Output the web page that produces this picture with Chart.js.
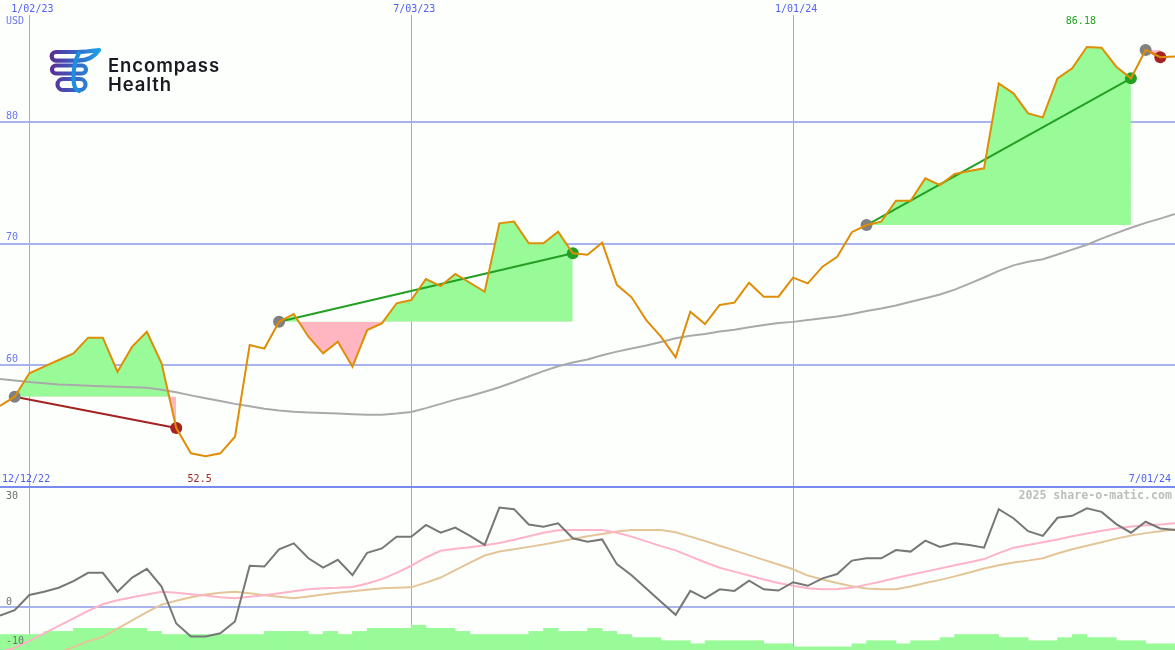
<!DOCTYPE html>
<html>
<head>
<meta charset="utf-8">
<script src="https://cdn.jsdelivr.net/npm/chart.js@4.4.1/dist/chart.umd.min.js"></script>
<style>
  body { margin: 0; background: #fdfffd; }
  #wrap { position: relative; width: 1175px; height: 650px; overflow: hidden; }
  #priceChart { position: absolute; left: 0; top: 0; }
  #oscChart { position: absolute; left: 0; top: 486px; }
  #logo { position: absolute; left: 0; top: 0; width: 240px; height: 100px; }
  .brand { position: absolute; left: 108px; font-family: Inter, 'Open Sans', sans-serif; font-weight: 600;
           font-size: 18.5px; letter-spacing: 0.9px; color: #1b1a22; line-height: 1; }
</style>
</head>
<body>
<div id="wrap">
  <canvas id="priceChart" width="1175" height="487" style="width:1175px;height:487px"></canvas>
  <canvas id="oscChart" width="1175" height="164" style="width:1175px;height:164px"></canvas>
  <div id="logo">
    <svg width="120" height="100" style="position:absolute;left:0;top:0">
      <defs>
        <linearGradient id="lg" gradientUnits="userSpaceOnUse" x1="50" y1="0" x2="100" y2="0">
          <stop offset="0" stop-color="#5b2b92"/>
          <stop offset="0.45" stop-color="#3c5cc0"/>
          <stop offset="1" stop-color="#1aa3e8"/>
        </linearGradient>
      </defs>
      <g fill="none" stroke="url(#lg)" stroke-width="4.2" stroke-linecap="round" stroke-linejoin="round">
        <path d="M99 50 C92 51 85 52 77 52 L56 52 A4.3 4.3 0 0 0 56 60.6 L78 60.6 C88 60.6 95 56 99 50"/>
        <path d="M56 65.5 L82 65.5 A4 4 0 0 1 82 73.5 L56 73.5 A4 4 0 0 1 56 65.5 Z"/>
        <path d="M63 79 L80 79 A5.5 5.5 0 0 1 80 90 L63 90 A5.5 5.5 0 0 1 63 79 Z"/>
        <path d="M79 53 C75 60 73.5 68 73.5 78 C73.5 86 75 90 79 91" stroke="#1e8fe0"/>
      </g>
    </svg>
    <div class="brand" style="top:56px">Encompass</div>
    <div class="brand" style="top:75px">Health</div>
  </div>
</div>
<script>
// Weekly closes, 12/19/22 .. 7/01/24 (index 0..80)
const price = [
  56.63, 57.39, 59.32, 59.86, 60.41, 60.96, 62.25, 62.25, 59.45, 61.51,
  62.74, 60.14, 54.81, 52.73, 52.5, 52.73, 54.10, 61.65, 61.35, 63.56,
  64.20, 62.33, 60.96, 61.92, 59.86, 62.88, 63.43, 65.08, 65.35, 67.08,
  66.50, 67.49, 66.77, 66.03, 71.66, 71.80, 70.02, 70.02, 70.97, 69.19,
  69.08, 70.07, 66.60, 65.57, 63.70, 62.33, 60.63, 64.39, 63.37, 64.94,
  65.13, 66.77, 65.62, 65.62, 67.19, 66.72, 68.09, 68.91, 70.93, 71.52,
  71.80, 73.52, 73.52, 75.36, 74.81, 75.72, 75.97, 76.19, 83.18, 82.36,
  80.71, 80.38, 83.59, 84.42, 86.18, 86.12, 84.55, 83.59, 85.93, 85.33,
  85.38
];
const movingAvg = [
  58.85, 58.72, 58.60, 58.50, 58.40, 58.35, 58.30, 58.26, 58.22, 58.17,
  58.12, 57.97, 57.75, 57.50, 57.27, 57.03, 56.80, 56.60, 56.40, 56.25,
  56.15, 56.10, 56.05, 56.00, 55.95, 55.90, 55.90, 56.00, 56.13, 56.45,
  56.80, 57.15, 57.45, 57.80, 58.17, 58.60, 59.05, 59.50, 59.90, 60.20,
  60.45, 60.80, 61.10, 61.35, 61.60, 61.90, 62.20, 62.40, 62.55, 62.75,
  62.90, 63.10, 63.30, 63.45, 63.55, 63.70, 63.85, 64.00, 64.20, 64.45,
  64.65, 64.90, 65.20, 65.50, 65.80, 66.20, 66.70, 67.20, 67.75, 68.20,
  68.50, 68.70, 69.10, 69.50, 69.90, 70.40, 70.85, 71.30, 71.70, 72.05,
  72.43
];
// trend segments (week index of start and end)
const trendStart = [1, 19, 59, 78];
const trendEnd = [12, 39, 77, 79];

// lower panel
const oscLine = [
  -2.2, -0.8, 3.05, 3.9, 4.9, 6.6, 8.7, 8.7, 3.9, 7.5,
  9.7, 5.2, -4.2, -7.5, -7.5, -6.7, -3.7, 10.5, 10.3, 14.7,
  16.2, 12.4, 10.0, 12.0, 8.1, 13.8, 14.9, 17.9, 17.9, 20.9,
  18.9, 20.2, 18.1, 15.8, 25.3, 24.9, 21.0, 20.4, 21.3, 17.5,
  16.6, 17.2, 10.9, 8.1, 4.7, 1.35, -2.0, 4.1, 2.2, 4.5,
  4.1, 6.7, 4.5, 4.2, 6.3, 5.4, 7.3, 8.4, 11.8, 12.4,
  12.4, 14.5, 14.1, 16.9, 15.3, 16.2, 15.8, 15.1, 24.9, 22.6,
  19.3, 18.1, 22.7, 23.2, 25.1, 24.2, 21.1, 18.9, 21.7, 20.0,
  19.6
];
const signalFast = [
  -11.4, -10.4, -8.6, -6.7, -4.8, -2.9, -1.0, 0.7, 1.7, 2.5,
  3.2, 3.85, 3.6, 3.25, 2.9, 2.5, 2.25, 2.6, 3.0, 3.5,
  4.0, 4.5, 4.8, 4.9, 5.1, 6.0, 7.1, 8.7, 10.5, 12.6,
  14.3, 14.8, 15.2, 15.7, 16.3, 17.1, 18.0, 18.9, 19.5, 19.6,
  19.6, 19.6, 18.9, 17.9, 16.7, 15.5, 14.4, 12.9, 11.4, 10.0,
  9.0, 8.0, 7.0, 6.1, 5.4, 4.8, 4.5, 4.6, 4.9, 5.7,
  6.5, 7.4, 8.2, 9.0, 9.8, 10.6, 11.4, 12.2, 13.7, 15.1,
  15.8, 16.5, 17.2, 18.0, 18.7, 19.4, 20.0, 20.5, 20.8, 21.0,
  21.3
];
const signalSlow = [
  -16.4, -15.2, -14.0, -12.8, -11.6, -10.2, -8.7, -7.6, -5.5, -3.4,
  -1.3, 0.6, 1.6, 2.5, 3.2, 3.6, 3.85, 3.5, 3.0, 2.6,
  2.2, 2.7, 3.2, 3.6, 4.0, 4.4, 4.8, 4.9, 5.0, 6.2,
  7.5, 9.4, 11.3, 13.1, 14.1, 14.7, 15.3, 15.9, 16.6, 17.3,
  18.0, 18.6, 19.2, 19.6, 19.6, 19.6, 19.0, 17.9, 16.8, 15.6,
  14.4, 13.2, 12.0, 10.8, 9.6, 8.0, 7.0, 6.1, 5.3, 4.7,
  4.5, 4.5, 5.2, 6.1, 6.9, 7.8, 8.8, 9.8, 10.6, 11.3,
  11.8, 12.4, 13.6, 14.7, 15.6, 16.5, 17.4, 18.2, 18.8, 19.3,
  19.8
];
// weekly volume level (one bar per week interval)
const volume = [
  5, 5, 5, 6, 6, 7, 7, 7, 7, 7,
  6, 5, 5, 5, 5, 5, 5, 5, 6, 6,
  6, 5, 6, 5, 6, 7, 7, 7, 8, 7,
  7, 6, 5, 5, 5, 5, 6, 7, 6, 6,
  7, 6, 5, 4, 4, 3, 3, 2, 3, 3,
  3, 3, 2, 2, 1, 1, 1, 1, 2, 3,
  3, 2, 3, 3, 4, 5, 5, 5, 4, 4,
  3, 3, 4, 5, 4, 4, 3, 3, 2, 2
];

// axis labels
const dateTickIndex = [2, 28, 54];
const dateTickLabels = ['1/02/23', '7/03/23', '1/01/24'];
const rangeLabels = ['12/12/22', '7/01/24'];
const priceTicks = [60, 70, 80];
const oscTicks = [30, 0, -10];

const colors = {
  grid: '#a9b4ef',
  vgrid: '#98a6f4',
  frame: '#7889ef',
  label: '#5060f0',
  axisLabel: '#6a78f0',
  oscLabel: '#707070',
  price: '#de8e06',
  avg: '#a9a9a9',
  up: '#98fb98',
  down: '#ffb6c1',
  gain: '#23a023',
  loss: '#a52222',
  start: '#808080'
};
const monoFont = "10px 'DejaVu Sans Mono', monospace";

const pts = (arr, off) => arr.map((v, i) => ({ x: i + (off || 0), y: v }));

// ----- upper panel -----
const priceDatasets = [
  { data: pts(price), borderColor: colors.price, borderWidth: 2, order: 1 },
  { data: pts(movingAvg), borderColor: colors.avg, borderWidth: 2, order: 4 }
];
const markerPts = [], markerCols = [];
trendStart.forEach((s, k) => {
  const e = trendEnd[k];
  const base = price[s];
  const gain = price[e] >= base;
  priceDatasets.push({
    data: price.slice(s, e + 1).map((v, j) => ({ x: s + j, y: v })),
    borderWidth: 0,
    fill: { target: { value: base }, above: colors.up, below: colors.down },
    order: 5
  });
  priceDatasets.push({
    data: [{ x: s, y: base }, { x: e, y: price[e] }],
    borderColor: gain ? colors.gain : colors.loss,
    borderWidth: 2,
    order: 3
  });
  markerPts.push({ x: s, y: base }, { x: e, y: price[e] });
  markerCols.push(colors.start, gain ? colors.gain : colors.loss);
});
priceDatasets.push({
  data: markerPts, showLine: false, pointRadius: 6,
  pointBackgroundColor: markerCols, pointBorderWidth: 0, order: 2
});

function drawText(ctx, txt, x, y, color, align, font) {
  ctx.font = font || monoFont;
  ctx.fillStyle = color;
  ctx.textAlign = align || 'left';
  ctx.textBaseline = 'middle';
  ctx.fillText(txt, x, y);
}

const priceFrame = {
  id: 'priceFrame',
  beforeDatasetsDraw(chart) {
    const { ctx, scales: { x, y }, width, height } = chart;
    ctx.save();
    ctx.fillStyle = colors.grid;
    priceTicks.forEach(v => ctx.fillRect(0, Math.round(y.getPixelForValue(v)) - 1, width, 2));
    ctx.fillStyle = colors.vgrid;
    dateTickIndex.forEach(i => ctx.fillRect(Math.round(x.getPixelForValue(i)), 15, 1, height - 15));
    ctx.restore();
  },
  afterDraw(chart) {
    const { ctx, scales: { x, y }, width } = chart;
    ctx.save();
    dateTickIndex.forEach((i, k) => drawText(ctx, dateTickLabels[k], x.getPixelForValue(i) + 3, 9, colors.label, 'center'));
    drawText(ctx, 'USD', 6, 21, colors.axisLabel);
    priceTicks.forEach(v => drawText(ctx, String(v), 6, y.getPixelForValue(v) - 6, colors.axisLabel));
    drawText(ctx, rangeLabels[0], 2, 479, colors.label);
    drawText(ctx, rangeLabels[1], width - 4, 479, colors.label, 'right');
    const lo = Math.min(...price), hi = Math.max(...price);
    drawText(ctx, String(lo), x.getPixelForValue(price.indexOf(lo)) - 6, 479, colors.loss, 'center');
    drawText(ctx, String(hi), x.getPixelForValue(price.indexOf(hi)) - 6, 21, colors.gain, 'center');
    ctx.restore();
  }
};

const common = {
  responsive: false,
  animation: false,
  events: [],
  layout: { padding: 0, autoPadding: false },
  elements: { point: { radius: 0 }, line: { tension: 0, fill: false } },
  plugins: { legend: { display: false }, tooltip: { enabled: false } }
};

new Chart(document.getElementById('priceChart'), {
  type: 'line',
  data: { datasets: priceDatasets },
  options: Object.assign({}, common, {
    scales: {
      x: { type: 'linear', min: 0, max: 80, offset: false, display: false },
      y: { min: 49.96, max: 90.04, display: false }
    }
  }),
  plugins: [priceFrame]
});

// ----- lower panel -----
const oscFrame = {
  id: 'oscFrame',
  beforeDatasetsDraw(chart) {
    const { ctx, scales: { x, y }, width, height } = chart;
    ctx.save();
    ctx.fillStyle = colors.grid;
    ctx.fillRect(0, Math.round(y.getPixelForValue(0)) - 1, width, 2);
    ctx.fillStyle = colors.vgrid;
    dateTickIndex.forEach(i => ctx.fillRect(Math.round(x.getPixelForValue(i)), 0, 1, height));
    ctx.fillStyle = colors.frame;
    ctx.fillRect(0, 0, width, 2);
    ctx.restore();
  },
  afterDraw(chart) {
    const { ctx, scales: { y }, width } = chart;
    ctx.save();
    oscTicks.forEach(v => {
      const py = Math.max(10, y.getPixelForValue(v) - 5);
      drawText(ctx, String(v), 6, py, colors.oscLabel);
    });
    drawText(ctx, '2025 share-o-matic.com', width - 3, 10, '#bdbdbd', 'right',
      "bold 11.6px 'DejaVu Sans Mono', monospace");
    ctx.restore();
  }
};

new Chart(document.getElementById('oscChart'), {
  type: 'line',
  data: {
    datasets: [
      { data: pts(oscLine), borderColor: '#777777', borderWidth: 2, order: 1 },
      { data: pts(signalFast), borderColor: '#ffb3c6', borderWidth: 2, order: 2 },
      { data: pts(signalSlow), borderColor: '#e3c598', borderWidth: 2, order: 3 },
      { type: 'bar', data: pts(volume, 0.5), yAxisID: 'yv', backgroundColor: colors.up,
        barPercentage: 1, categoryPercentage: 1, grouped: false, order: 9 }
    ]
  },
  options: Object.assign({}, common, {
    scales: {
      x: { type: 'linear', min: 0, max: 80, offset: false, display: false, grid: { offset: false } },
      y: { min: -10.94, max: 30.79, display: false },
      yv: { min: 0, max: 52.9, display: false }
    }
  }),
  plugins: [oscFrame]
});
</script>
</body>
</html>
